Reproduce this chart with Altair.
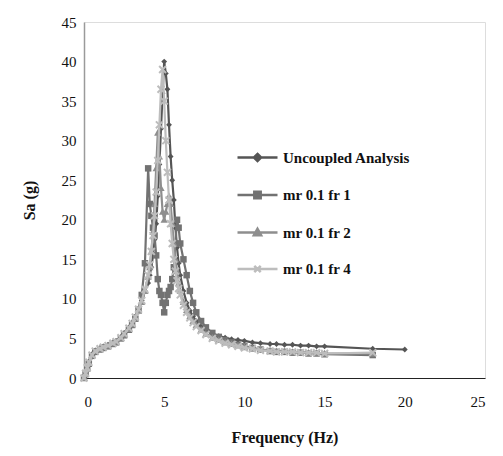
import altair as alt
import pandas as pd

series_names = ["Uncoupled Analysis", "mr 0.1 fr 1", "mr 0.1 fr 2", "mr 0.1 fr 4"]
series_colors = ["#555555", "#727272", "#8e8e8e", "#bdbdbd"]

freq = [0, 0.1, 0.2, 0.3, 0.5, 0.7, 1.0, 1.2, 1.5, 1.8, 2.0, 2.3, 2.5, 2.8, 3.0, 3.2,
        3.4, 3.6, 3.8, 4.0, 4.1, 4.2, 4.3, 4.4, 4.5, 4.6, 4.7, 4.8, 4.9, 5.0, 5.1, 5.2,
        5.3, 5.4, 5.5, 5.6, 5.7, 5.8, 5.9, 6.0, 6.2, 6.4, 6.6, 6.8, 7.0, 7.3, 7.6, 8.0,
        8.4, 8.8, 9.2, 9.6, 10.0, 10.5, 11.0, 11.6, 12.0, 12.5, 13.0, 13.5, 14.0, 14.5,
        15.0, 18.0, 20.0]

sa_uncoupled = [0, 0.7, 1.4, 2.1, 3.0, 3.5, 3.8, 4.0, 4.2, 4.5, 4.7, 5.2, 5.7, 6.4, 7.0, 7.8,
                8.8, 9.8, 11.0, 12.0, 13.0, 14.0, 15.5, 17.5, 19.5, 23.0, 27.0, 31.5, 36.0, 40.0, 38.5, 36.5,
                32.0, 28.0, 25.0, 22.5, 19.0, 16.5, 14.5, 13.0, 11.0, 9.5, 8.5, 7.8, 7.2, 6.5, 6.0, 5.6,
                5.3, 5.1, 4.9, 4.8, 4.7, 4.5, 4.4, 4.3, 4.3, 4.2, 4.2, 4.1, 4.1, 4.0,
                4.0, 3.7, 3.6]

sa_fr1 = [0, 0.5, 1.2, 1.8, 2.8, 3.3, 3.6, 3.8, 4.0, 4.3, 4.5, 5.0, 5.4, 6.1, 6.7, 7.5,
          8.6, 10.5, 14.5, 26.5, 22.0, 20.5, 19.0, 18.0, 15.5, 12.5, 11.0, 10.5, 9.5, 8.3, 9.5, 10.5,
          11.0, 11.5, 12.5, 14.0, 17.0, 20.0, 19.0, 17.0, 15.0, 13.0, 11.0, 9.5, 8.3, 7.2, 6.4, 5.7,
          5.2, 4.8, 4.5, 4.2, 4.0, 3.8, 3.6, 3.4, 3.3, 3.3, 3.2, 3.2, 3.1, 3.1,
          3.0, 2.9]

sa_fr2 = [0, 0.6, 1.3, 1.9, 2.9, 3.4, 3.7, 3.9, 4.1, 4.4, 4.6, 5.1, 5.5, 6.2, 6.8, 7.6,
          8.5, 9.6, 11.0, 12.8, 14.0, 16.0, 18.5, 22.0, 26.5, 31.0, 28.0, 24.0, 21.0, 20.0, 21.0, 22.0,
          23.0, 22.0, 19.5, 17.0, 15.0, 13.5, 12.0, 11.0, 9.6, 8.6, 7.8, 7.2, 6.7, 6.1, 5.6, 5.1,
          4.8, 4.5, 4.3, 4.1, 3.9, 3.7, 3.6, 3.5, 3.4, 3.4, 3.3, 3.3, 3.2, 3.2,
          3.1, 3.1]

sa_fr4 = [0, 0.6, 1.3, 2.0, 2.9, 3.4, 3.7, 3.9, 4.1, 4.4, 4.6, 5.1, 5.6, 6.3, 6.9, 7.7,
          8.7, 9.8, 11.2, 13.0, 14.3, 16.0, 18.0, 20.5, 23.5, 27.5, 32.0, 36.5, 39.0, 35.0, 30.0, 26.0,
          22.5, 19.5, 17.0, 15.0, 13.5, 12.3, 11.3, 10.5, 9.2, 8.3, 7.6, 7.0, 6.5, 6.0, 5.5, 5.0,
          4.7, 4.4, 4.2, 4.0, 3.8, 3.7, 3.5, 3.4, 3.3, 3.3, 3.3, 3.2, 3.2, 3.2,
          3.1, 3.2]

x_ticks = [0, 5, 10, 15, 20, 25]
y_ticks = [0, 5, 10, 15, 20, 25, 30, 35, 40, 45]

all_values = [sa_uncoupled, sa_fr1, sa_fr2, sa_fr4]
rows = []
for name, vals in zip(series_names, all_values):
    for f, v in zip(freq, vals):
        rows.append({"series": name, "freq": f, "sa": v})
df = pd.DataFrame(rows)

marker_paths = [
    "M0,-1L1,0L0,1L-1,0Z",
    "M-1,-1H1V1H-1Z",
    "M0,-1.1L1.1,0.9H-1.1Z",
    "M-1,-1L1,1M-1,1L1,-1",
]
marker_sizes = [34, 42, 44, 48]
legend_paths = [
    "M-5,0L5,0M0,-0.9L0.9,0L0,0.9L-0.9,0Z",
    "M-5,0L5,0M-0.8,-0.8L0.8,-0.8L0.8,0.8L-0.8,0.8Z",
    "M-5,0L5,0M0,-0.9L0.9,0.7L-0.9,0.7Z",
    "M-5,0L5,0M-0.8,-0.8L0.8,0.8M-0.8,0.8L0.8,-0.8",
]

FONT = "Liberation Serif"

x_enc = alt.X("freq:Q", scale=alt.Scale(domain=[0, 25], nice=False),
              axis=alt.Axis(values=x_ticks, title="Frequency (Hz)", grid=False, ticks=False,
                            domainColor="#222222", domainWidth=1.2, labelPadding=16,
                            titlePadding=20, labelFontSize=15, titleFontSize=16,
                            labelFont=FONT, titleFont=FONT, titleFontWeight="bold",
                            labelColor="#111111", titleColor="#111111"))
y_enc = alt.Y("sa:Q", scale=alt.Scale(domain=[0, 45], nice=False),
              axis=alt.Axis(values=y_ticks, title="Sa (g)", grid=False, ticks=False,
                            domainColor="#9a9a9a", domainWidth=1.5, labelPadding=8,
                            titlePadding=24, labelFontSize=15, titleFontSize=16,
                            labelFont=FONT, titleFont=FONT, titleFontWeight="bold",
                            labelColor="#111111", titleColor="#111111"))

layers = []
for i, name in enumerate(series_names):
    sub = alt.Chart(df).transform_filter(alt.datum.series == name)
    line = sub.mark_line(strokeWidth=2.2, color=series_colors[i]).encode(
        x=x_enc, y=y_enc, order="freq:Q")
    filled = i != 3
    pts = sub.mark_point(filled=filled, size=marker_sizes[i], opacity=1, shape=marker_paths[i],
                         color=series_colors[i], strokeWidth=2).encode(x=x_enc, y=y_enc)
    layers += [line, pts]

legend_spec = dict(
    title=None, orient="none", legendX=166, legendY=128,
    labelFont=FONT, labelFontSize=15, labelFontWeight="bold", labelColor="#111111",
    labelOffset=18, rowPadding=19.5, symbolSize=64, symbolStrokeWidth=2.5,
    symbolOpacity=1, padding=0)

# legend-only layer: no rows drawn, entries come from the explicit scale domains
legend_layer = alt.Chart(df).transform_filter("false").mark_point(
    filled=True, size=64, opacity=1, strokeWidth=2.5).encode(
    x=x_enc, y=y_enc,
    color=alt.Color("series:N", scale=alt.Scale(domain=series_names, range=series_colors),
                    legend=alt.Legend(**legend_spec)),
    stroke=alt.Stroke("series:N", scale=alt.Scale(domain=series_names, range=series_colors),
                      legend=alt.Legend(**legend_spec)),
    shape=alt.Shape("series:N", scale=alt.Scale(domain=series_names, range=legend_paths),
                    legend=alt.Legend(**legend_spec)),
)

chart = alt.layer(*layers, legend_layer).resolve_scale(
    color="independent", shape="independent", stroke="independent"
).properties(
    width=401, height=356,
    padding={"left": 84, "top": 22, "right": 18, "bottom": 78},
    autosize=alt.AutoSizeParams(type="none"),
).configure_view(stroke=None).configure(background="white")

chart.save("out.html", embed_options={"renderer": "svg", "actions": False})
